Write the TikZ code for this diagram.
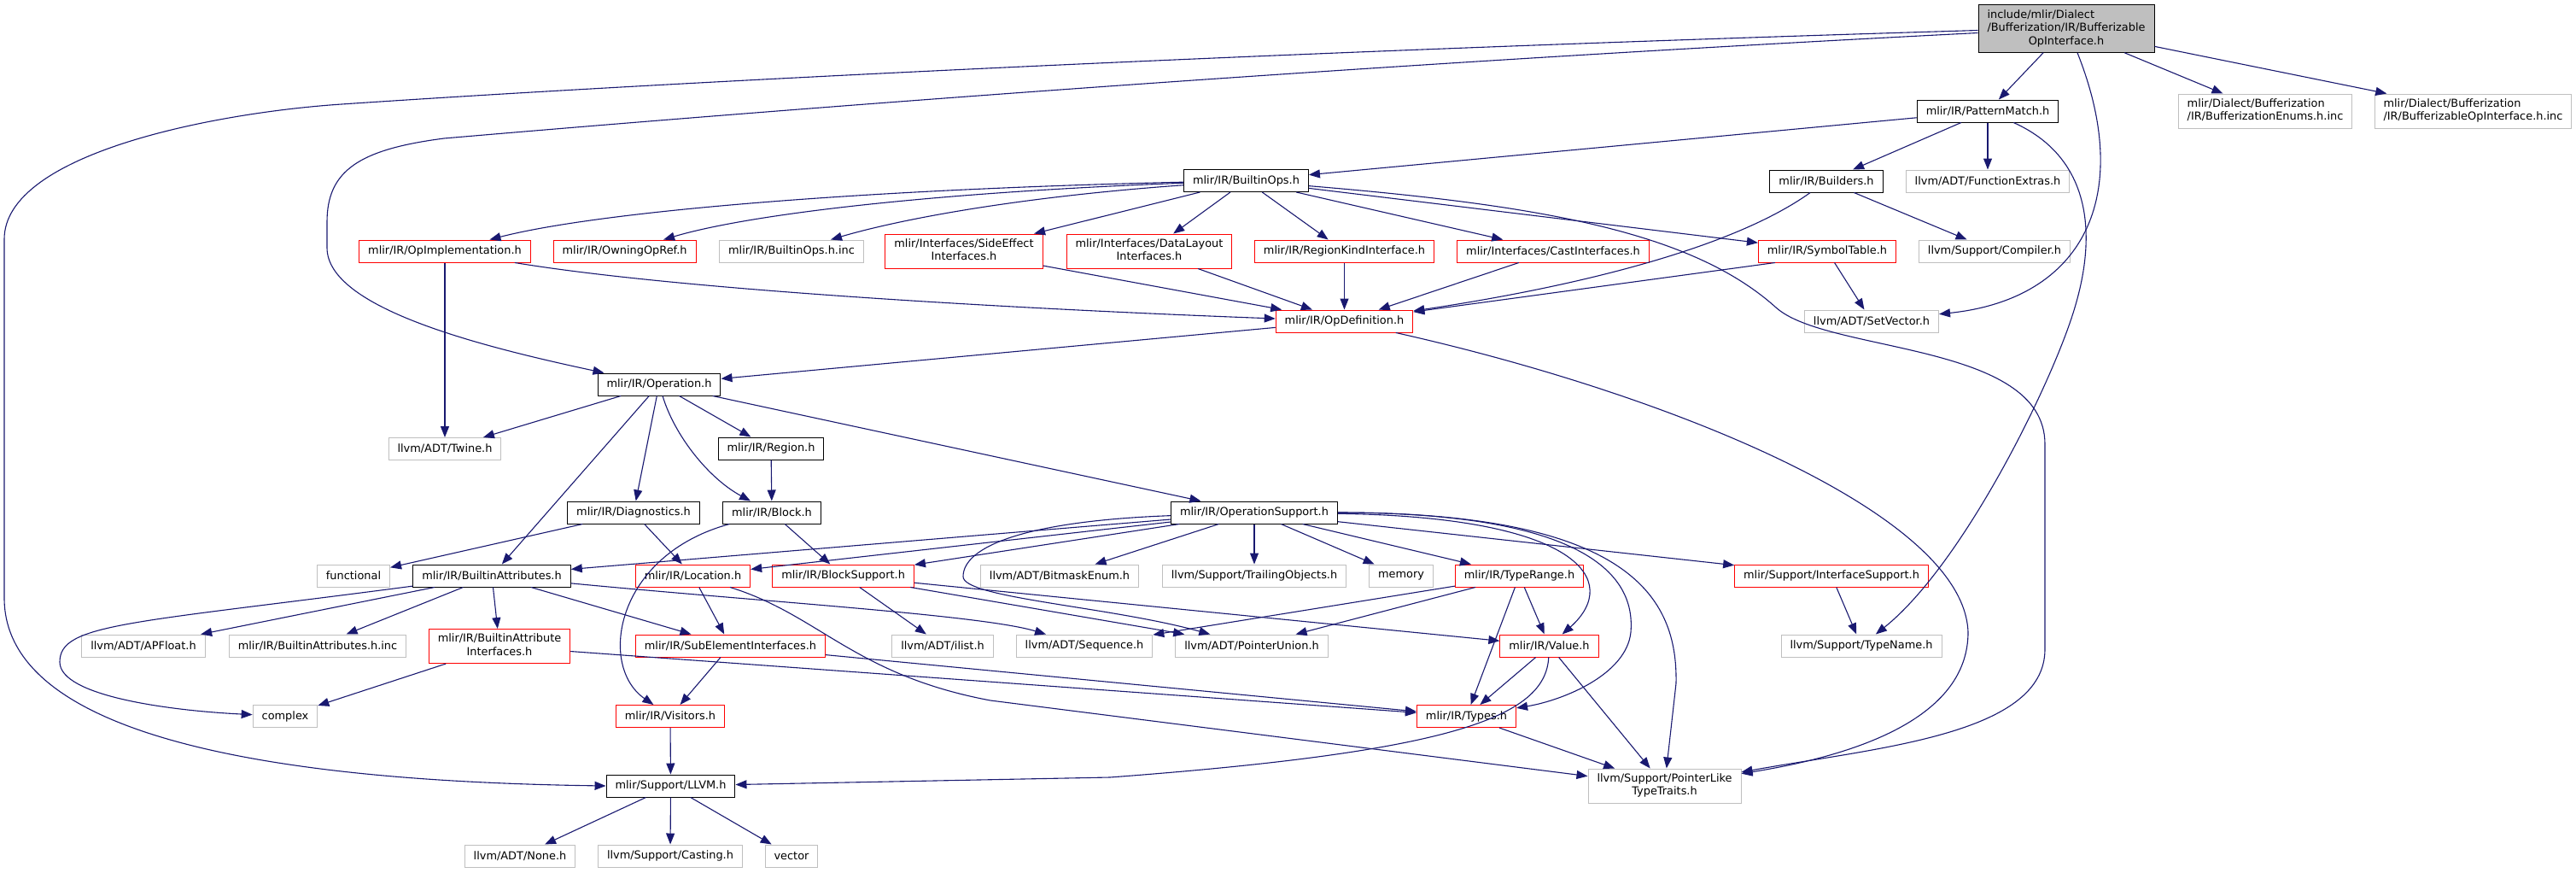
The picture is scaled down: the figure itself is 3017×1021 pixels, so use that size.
\documentclass[tikz,border=0pt]{standalone}
\usepackage{fontspec}
\setmainfont{DejaVu Sans}
\usepackage{tikz}
\usetikzlibrary{arrows.meta}
\definecolor{edgeblue}{RGB}{25, 25, 112}
\definecolor{boxred}{RGB}{255, 0, 0}
\definecolor{boxgrey}{RGB}{191, 191, 191}
\newcommand{\doxfont}{\fontsize{12.9}{15.5}\selectfont}
\newcommand{\dxtwo}[2]{\begin{tabular}{@{}l@{}}#1\\\multicolumn{1}{@{}c@{}}{#2}\end{tabular}}

\begin{document}
\begin{tikzpicture}[x=1pt, y=-1pt, >={Triangle[length=13pt, width=10pt]}, every node/.style={font=\doxfont},
    dxbox/.style={draw, rectangle, line width=1pt, inner xsep=10.5pt, inner ysep=4.5pt, minimum height=26pt},
    rootfile/.style={dxbox, draw=black, fill=boxgrey},
    docfile/.style={dxbox, draw=black},
    truncfile/.style={dxbox, draw=boxred},
    extfile/.style={dxbox, draw=boxgrey},
    dep/.style={->, draw=edgeblue, line width=1.1pt}]
    \useasboundingbox (0,0) rectangle (3017,1021);

    % top rows
    \node [rootfile] (root) at (2420,33.5) {\begin{tabular}{@{}l@{}}include/mlir/Dialect\\/Bufferization/IR/Bufferizable\\\multicolumn{1}{@{}c@{}}{OpInterface.h}\end{tabular}};
    \node [docfile] (pm) at (2328,130) {mlir/IR/PatternMatch.h};
    \node [extfile] (enums) at (2653,130) {\dxtwo{mlir/Dialect/Bufferization}{/IR/BufferizationEnums.h.inc}};
    \node [extfile] (boiinc) at (2896.5,130) {\dxtwo{mlir/Dialect/Bufferization}{/IR/BufferizableOpInterface.h.inc}};
    \node [docfile] (bops) at (1459.5,211.5) {mlir/IR/BuiltinOps.h};
    \node [docfile] (builders) at (2139,212) {mlir/IR/Builders.h};
    \node [extfile] (fextras) at (2328,212) {llvm/ADT/FunctionExtras.h};

    \node [truncfile] (opimpl) at (521,294) {mlir/IR/OpImplementation.h};
    \node [truncfile] (owning) at (731.6,294) {mlir/IR/OwningOpRef.h};
    \node [extfile] (binc) at (927,294) {mlir/IR/BuiltinOps.h.inc};
    \node [truncfile] (sideeff) at (1129,294) {\dxtwo{mlir/Interfaces/SideEffect}{Interfaces.h}};
    \node [truncfile] (datalayout) at (1346,294) {\dxtwo{mlir/Interfaces/DataLayout}{Interfaces.h}};
    \node [truncfile] (regkind) at (1574.5,294) {mlir/IR/RegionKindInterface.h};
    \node [truncfile] (cast) at (1819,294) {mlir/Interfaces/CastInterfaces.h};
    \node [truncfile] (symtab) at (2140,294) {mlir/IR/SymbolTable.h};
    \node [extfile] (compiler) at (2336,294) {llvm/Support/Compiler.h};
    \node [truncfile] (opdef) at (1574.5,376) {mlir/IR/OpDefinition.h};
    \node [extfile] (setvec) at (2192,376) {llvm/ADT/SetVector.h};

    % operation and below
    \node [docfile] (op) at (772,450) {mlir/IR/Operation.h};
    \node [extfile] (twine) at (521,525.5) {llvm/ADT/Twine.h};
    \node [docfile] (region) at (903,525) {mlir/IR/Region.h};
    \node [docfile] (diag) at (742,600) {mlir/IR/Diagnostics.h};
    \node [docfile] (block) at (904,600) {mlir/IR/Block.h};
    \node [docfile] (opsup) at (1469,600) {mlir/IR/OperationSupport.h};

    \node [extfile] (func) at (414,674) {functional};
    \node [docfile] (battr) at (576,674) {mlir/IR/BuiltinAttributes.h};
    \node [truncfile] (loc) at (811.5,674) {mlir/IR/Location.h};
    \node [truncfile] (bsup) at (987.6,674) {mlir/IR/BlockSupport.h};
    \node [extfile] (bitmask) at (1241,674) {llvm/ADT/BitmaskEnum.h};
    \node [extfile] (trail) at (1469,674) {llvm/Support/TrailingObjects.h};
    \node [extfile] (memory) at (1641,674) {memory};
    \node [truncfile] (trange) at (1779.5,674) {mlir/IR/TypeRange.h};
    \node [truncfile] (isup) at (2145,674) {mlir/Support/InterfaceSupport.h};

    \node [extfile] (apfloat) at (168,756) {llvm/ADT/APFloat.h};
    \node [extfile] (bainc) at (372,756) {mlir/IR/BuiltinAttributes.h.inc};
    \node [truncfile] (baint) at (585,756.5) {\dxtwo{mlir/IR/BuiltinAttribute}{Interfaces.h}};
    \node [truncfile] (subel) at (855.5,756) {mlir/IR/SubElementInterfaces.h};
    \node [extfile] (ilist) at (1104,756) {llvm/ADT/ilist.h};
    \node [extfile] (seq) at (1270,756) {llvm/ADT/Sequence.h};
    \node [extfile] (punion) at (1466,756) {llvm/ADT/PointerUnion.h};
    \node [truncfile] (value) at (1814.5,756) {mlir/IR/Value.h};
    \node [extfile] (tname) at (2180,756) {llvm/Support/TypeName.h};

    \node [extfile] (complex) at (334,838.5) {complex};
    \node [truncfile] (visitors) at (785,838.5) {mlir/IR/Visitors.h};
    \node [truncfile] (types) at (1717.5,838.5) {mlir/IR/Types.h};
    \node [docfile] (llvm) at (785.5,920) {mlir/Support/LLVM.h};
    \node [extfile] (ptrlike) at (1949.5,920) {\dxtwo{llvm/Support/PointerLike}{TypeTraits.h}};
    \node [extfile] (none) at (609,1002) {llvm/ADT/None.h};
    \node [extfile] (casting) at (785,1002) {llvm/Support/Casting.h};
    \node [extfile] (vector) at (927,1002) {vector};

    % root includes
    \draw [dep] (root) -- (pm);
    \draw [dep] (root) -- (enums);
    \draw [dep] (root) -- (boiinc);
    \draw [dep] ([yshift=-5pt]root.west) .. controls (1500,80) and (800,138) .. (520,162) .. controls (420,175) and (383,200) .. (383,260) -- (383,290) .. controls (383,360) and (560,405) .. ([xshift=8pt]op.north west);
    \draw [dep] ([yshift=-2pt]root.west) .. controls (1500,60) and (800,95) .. (400,122) .. controls (250,132) and (5,180) .. (5,280) -- (5,700) .. controls (5,870) and (350,915) .. (llvm.west);
    \draw [dep] ([xshift=13pt]root.south) .. controls (2500,230) and (2440,350) .. (setvec);

    % pattern match, builtin ops, builders
    \draw [dep] (pm) -- (bops);
    \draw [dep] (pm) -- (builders);
    \draw [dep] (pm) -- (fextras);
    \draw [dep] (pm) .. controls (2440,180) and (2460,260) .. (2430,360) .. controls (2405,445) and (2300,660) .. (tname);
    \draw [dep] (bops) .. controls (1000,222) and (700,248) .. (opimpl);
    \draw [dep] (bops) .. controls (1100,225) and (880,250) .. (owning);
    \draw [dep] (bops) .. controls (1200,230) and (1060,255) .. (binc);
    \draw [dep] (bops) -- (sideeff);
    \draw [dep] (bops) -- (datalayout);
    \draw [dep] (bops) -- (regkind);
    \draw [dep] (bops) -- (cast);
    \draw [dep] (bops) -- (symtab);
    \draw [dep] (bops) .. controls (1800,240) and (1980,270) .. (2080,360) .. controls (2140,414) and (2395,400) .. (2395,520) -- (2395,760) .. controls (2395,860) and (2200,875) .. (ptrlike);
    \draw [dep] (builders) .. controls (2030,290) and (1850,335) .. (opdef);
    \draw [dep] (builders) -- (compiler);

    % op definition
    \draw [dep] (opimpl) .. controls (800,340) and (1200,362) .. (opdef);
    \draw [dep] (opimpl) -- (twine);
    \draw [dep] (sideeff) -- (opdef);
    \draw [dep] (datalayout) -- (opdef);
    \draw [dep] (regkind) -- (opdef);
    \draw [dep] (cast) -- (opdef);
    \draw [dep] ([xshift=20pt]symtab.south west) -- (opdef);
    \draw [dep] (symtab) -- (setvec);
    \draw [dep] (opdef) -- (op);
    \draw [dep] (opdef) .. controls (1950,460) and (2300,600) .. (2305,740) .. controls (2305,830) and (2200,880) .. (ptrlike);

    % operation
    \draw [dep] (op) -- (twine);
    \draw [dep] (op) -- (region);
    \draw [dep] (op) -- (diag);
    \draw [dep] (op) .. controls (790,510) and (830,560) .. (block);
    \draw [dep] (op) -- (battr);
    \draw [dep] (op) -- (opsup);
    \draw [dep] (region) -- (block);
    \draw [dep] (diag) -- (func);
    \draw [dep] (diag) -- (loc);
    \draw [dep] (block) -- (bsup);
    \draw [dep] (block) .. controls (720,650) and (700,780) .. (visitors);

    % operation support
    \draw [dep] (opsup) -- (battr);
    \draw [dep] (opsup) -- (loc);
    \draw [dep] (opsup) -- (bsup);
    \draw [dep] (opsup) -- (bitmask);
    \draw [dep] (opsup) -- (trail);
    \draw [dep] (opsup) -- (memory);
    \draw [dep] (opsup) -- (trange);
    \draw [dep] (opsup) -- (isup);
    \draw [dep] (opsup) .. controls (1200,610) and (1128,640) .. (1128,675) .. controls (1128,700) and (1300,710) .. (punion);
    \draw [dep] (opsup) .. controls (1850,605) and (1900,680) .. (value);
    \draw [dep] (opsup) .. controls (1870,600) and (1915,680) .. (1910,740) .. controls (1905,790) and (1830,820) .. (types);
    \draw [dep] (opsup) .. controls (1910,600) and (1965,700) .. (1963,800) -- (ptrlike);

    % attributes, location, block support
    \draw [dep] (battr) .. controls (150,730) and (70,730) .. (70,775) .. controls (70,815) and (200,832) .. (complex);
    \draw [dep] (battr) -- (apfloat);
    \draw [dep] (battr) -- (bainc);
    \draw [dep] (battr) -- (baint);
    \draw [dep] (battr) -- (subel);
    \draw [dep] (battr) .. controls (900,705) and (1150,720) .. (seq);
    \draw [dep] (loc) -- (subel);
    \draw [dep] (loc) .. controls (960,720) and (1000,790) .. (1160,820) -- (ptrlike);
    \draw [dep] (bsup) -- (ilist);
    \draw [dep] (bsup) -- (punion);
    \draw [dep] (bsup) -- (value);
    \draw [dep] (trange) -- (seq);
    \draw [dep] (trange) -- (punion);
    \draw [dep] (trange) -- (value);
    \draw [dep] (trange) -- (types);
    \draw [dep] (isup) -- (tname);

    % lower rows
    \draw [dep] (baint) -- (complex);
    \draw [dep] (baint) -- (types);
    \draw [dep] (subel) -- (visitors);
    \draw [dep] (subel) -- (types);
    \draw [dep] (visitors) -- (llvm);
    \draw [dep] (value) -- (types);
    \draw [dep] (value) -- (ptrlike);
    \draw [dep] (value) .. controls (1810,840) and (1700,880) .. (1300,910) -- (llvm);
    \draw [dep] (types) -- (ptrlike);
    \draw [dep] (llvm) -- (none);
    \draw [dep] (llvm) -- (casting);
    \draw [dep] (llvm) -- (vector);
\end{tikzpicture}
\end{document}
